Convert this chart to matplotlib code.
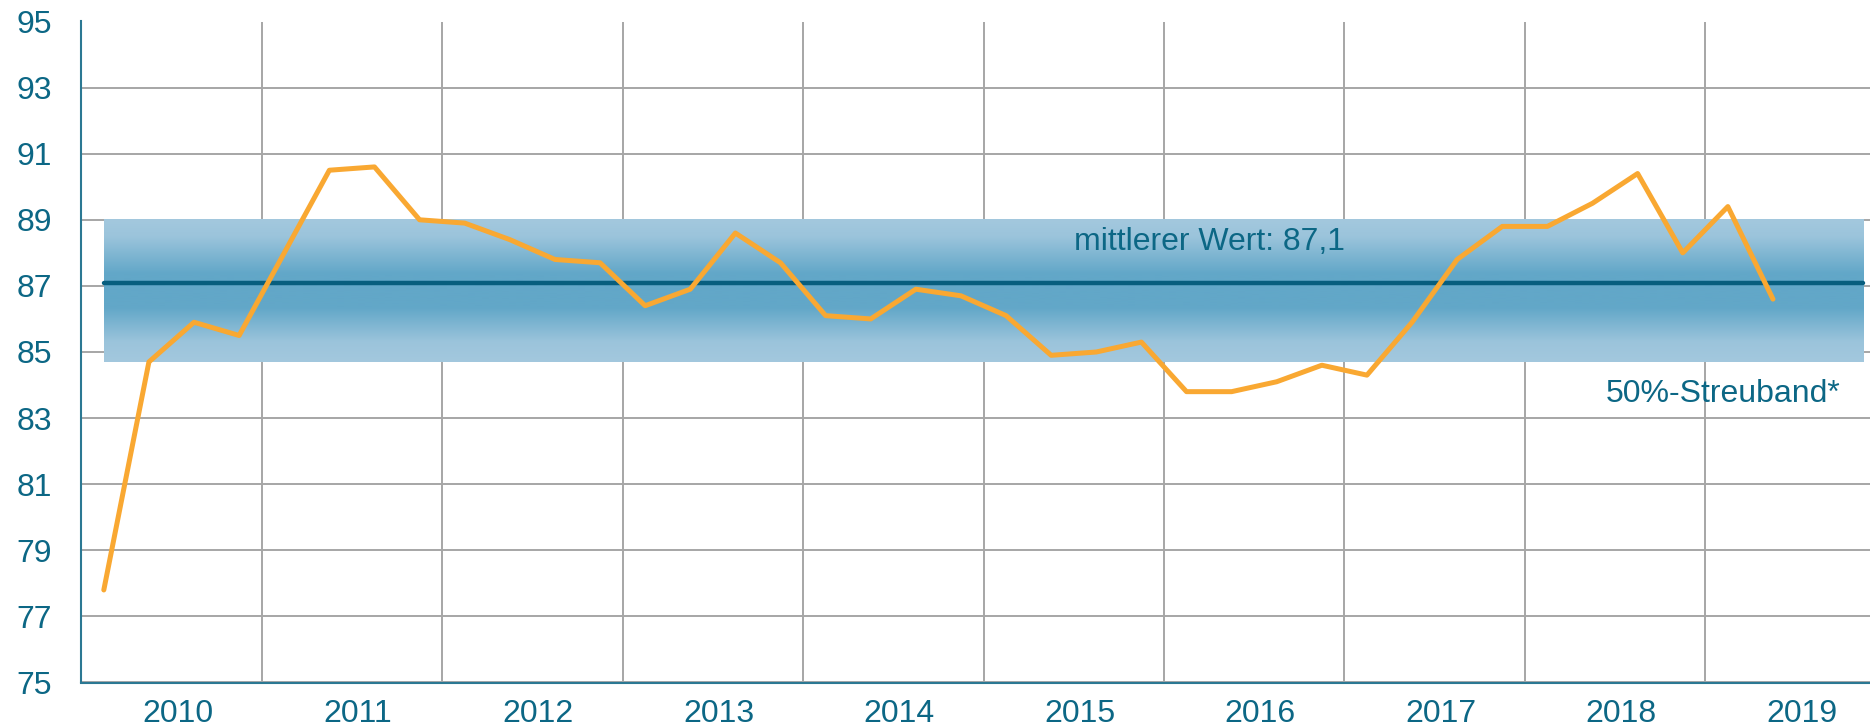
import numpy as np
import matplotlib
matplotlib.use("Agg")
import matplotlib.pyplot as plt
import matplotlib.transforms as mtransforms

plt.rcParams['font.family'] = ['Liberation Sans', 'DejaVu Sans']

# quarterly values, 2010 Q1 .. 2019 Q2
years = [2010, 2011, 2012, 2013, 2014, 2015, 2016, 2017, 2018, 2019]
values = [77.8, 84.7, 85.9, 85.5,
          88.0, 90.5, 90.6, 89.0,
          88.9, 88.4, 87.8, 87.7,
          86.4, 86.9, 88.6, 87.7,
          86.1, 86.0, 86.9, 86.7,
          86.1, 84.9, 85.0, 85.3,
          83.8, 83.8, 84.1, 84.6,
          84.3, 85.9, 87.8, 88.8,
          88.8, 89.5, 90.4, 88.0,
          89.4, 86.6]
mean_value = 87.1
band_low = 84.7
band_high = 89.0
mean_label = "mittlerer Wert: 87,1"
band_label = "50%-Streuband*"

teal = '#0c6785'
orange = '#f9a832'
grid_col = '#a6a6a6'

fig = plt.figure(figsize=(18.7, 7.28), dpi=100)
ax = fig.add_axes([81.25 / 1870, 45.5 / 728, 1804.5 / 1870, 661 / 728])

# quarter positions: year index + (q + 0.5) / 4
x = np.arange(len(values)) / 4 + 0.125
x_first = 0.125
x_last = len(years) - 0.125

# gradient band
prof = np.interp(np.linspace(0, 1, 200), [0, 0.12, 0.38, 0.62, 0.86, 1], [0, 0.12, 1, 1, 0.12, 0])
light = np.array(matplotlib.colors.to_rgb('#a3c8de'))
dark = np.array(matplotlib.colors.to_rgb('#62a7c8'))
img = light[None, :] * (1 - prof[:, None]) + dark[None, :] * prof[:, None]
ax.imshow(img[:, None, :], extent=[x_first, x_last, band_low, band_high],
          aspect='auto', origin='upper', zorder=1, interpolation='bilinear')

ax.plot([x_first, x_last], [mean_value, mean_value], color='#075e7e', lw=3.2,
        solid_capstyle='round', zorder=2)
ax.plot(x, values, color=orange, lw=3.6, solid_joinstyle='round',
        solid_capstyle='round', zorder=3)

ax.text(5.5, 88.1, mean_label, color=teal, fontsize=23, va='baseline', ha='left', zorder=4)
ax.text(8.45, 83.49, band_label, color=teal, fontsize=23, va='baseline', ha='left', zorder=4)

ax.set_xlim(0, len(years))
ax.set_ylim(75, 95)
ax.set_yticks(np.arange(75, 96, 2))
ax.set_xticks(np.arange(len(years)) + 0.5)
ax.set_xticklabels([str(y) for y in years])
ax.set_xticks(np.arange(1, len(years)), minor=True)

ax.grid(axis='y', which='major', color=grid_col, lw=1.4)
ax.grid(axis='x', which='minor', color=grid_col, lw=1.4)
ax.set_axisbelow(True)

ax.tick_params(axis='both', which='both', length=0, labelcolor=teal, labelsize=23)
ax.tick_params(axis='y', pad=21)
ax.tick_params(axis='x', pad=12)
offset = mtransforms.ScaledTranslation(0.06, 0, fig.dpi_scale_trans)
for lab in ax.get_xticklabels():
    lab.set_transform(lab.get_transform() + offset)

for side in ['top', 'right']:
    ax.spines[side].set_visible(False)
for side in ['left', 'bottom']:
    ax.spines[side].set_color('#2b7893')
    ax.spines[side].set_linewidth(1.5)

fig.savefig('out.png', dpi=100)
